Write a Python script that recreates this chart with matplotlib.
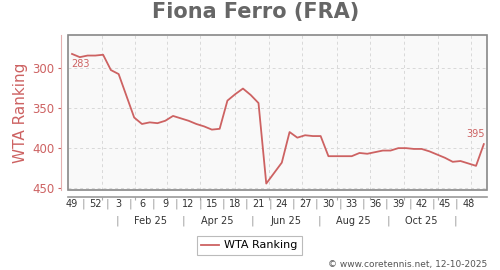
import matplotlib.pyplot as plt
from matplotlib.patches import Rectangle
from matplotlib.transforms import blended_transform_factory

# weekly WTA ranking, Dec 2024 (week 49) .. Dec 2025
ranking = [283, 287, 285, 285, 284, 303, 308, 335, 362, 370,
           368, 369, 366, 360, 363, 366, 370, 373, 377, 376,
           341, 333, 326, 334, 344, 444, 431, 418, 380, 387,
           384, 385, 385, 410, 410, 410, 410, 406, 407, 405,
           403, 403, 400, 400, 401, 401, 404, 408, 412, 417,
           416, 419, 422, 395]
weeks = list(range(len(ranking)))

week_labels = ["49", "52", "3", "6", "9", "12", "15", "18", "21", "24",
               "27", "30", "33", "36", "39", "42", "45", "48"]
week_pos = [3 * i for i in range(len(week_labels))]

month_ticks = [3.82, 8.1, 12.2, 16.5, 21.0, 25.3, 29.6, 34.1, 38.4, 42.7, 47.1, 51.4]
month_labels = ["Feb 25", "Apr 25", "Jun 25", "Aug 25", "Oct 25"]
month_seps = [5.9, 14.3, 23.2, 31.8, 40.7, 49.3]

red = "#cd6262"
grey = "#888888"

fig = plt.figure(figsize=(5, 2.7), dpi=100)
ax = fig.add_axes([0.1366, 0.2963, 0.838, 0.574])
ax.set_facecolor("#f9f9f9")

ax.plot(weeks, ranking, color=red, lw=1.3, label="WTA Ranking")

ax.set_xlim(-0.48, 53.45)
ax.set_ylim(452, 259.5)
ax.set_yticks([300, 350, 400, 450])
ax.set_xticks(month_ticks)
ax.set_xticklabels([])

ax.grid(True, ls=(0, (3, 3)), color="#d8d8d8", lw=0.7)

for s in ["top", "right"]:
    ax.spines[s].set_visible(False)
ax.spines["left"].set_position(("outward", 5))
ax.spines["left"].set_color("#e3b0b0")
ax.spines["bottom"].set_position(("outward", 5))
ax.spines["bottom"].set_color("#999999")
ax.spines["bottom"].set_linewidth(1.2)
ax.add_patch(Rectangle((0, 0), 1, 1, transform=ax.transAxes, fill=False,
                       edgecolor=grey, lw=1.2, clip_on=False, zorder=5))

ax.tick_params(axis="y", colors=red, labelsize=8.5, length=2, pad=3)
ax.tick_params(axis="x", colors="#aaaaaa", length=2)

ax.set_ylabel("WTA Ranking", color=red, fontsize=11)
ax.yaxis.set_label_coords(-0.096, 0.5)

tr = blended_transform_factory(ax.transData, ax.transAxes)
for p, lab in zip(week_pos, week_labels):
    ax.text(p, -0.09, lab, transform=tr, ha="center", va="center", fontsize=7, color="#333333")
for i in range(len(week_pos) - 1):
    ax.text(week_pos[i] + 1.5, -0.09, "|", transform=tr, ha="center", va="center",
            fontsize=8, color="#999999")
for p in month_seps:
    ax.text(p, -0.2, "|", transform=tr, ha="center", va="center", fontsize=8, color="#999999")
for i, lab in enumerate(month_labels):
    ax.text((month_seps[i] + month_seps[i + 1]) / 2, -0.2, lab, transform=tr,
            ha="center", va="center", fontsize=7, color="#333333")

ax.annotate(str(ranking[0]), (weeks[0], ranking[0]), xytext=(6, -7), textcoords="offset points",
            ha="center", va="center", fontsize=7, color=red)
ax.annotate(str(ranking[-1]), (weeks[-1], ranking[-1]), xytext=(-6, 7), textcoords="offset points",
            ha="center", va="center", fontsize=7, color=red)

fig.text(0.512, 0.956, "Fiona Ferro (FRA)", ha="center", va="center", fontsize=15,
         fontweight="bold", color="#666666")

leg = ax.legend(loc="center", bbox_to_anchor=(0.499, 0.091), bbox_transform=fig.transFigure,
                fontsize=8, fancybox=False, edgecolor="#aaaaaa", handlelength=1.6,
                borderpad=0.4, handletextpad=0.5)
leg.get_frame().set_linewidth(0.8)

fig.text(0.974, 0.022, "\u00a9 www.coretennis.net, 12-10-2025", ha="right", va="center",
         fontsize=6.5, color="#555555")

fig.savefig("out.png", dpi=100)
